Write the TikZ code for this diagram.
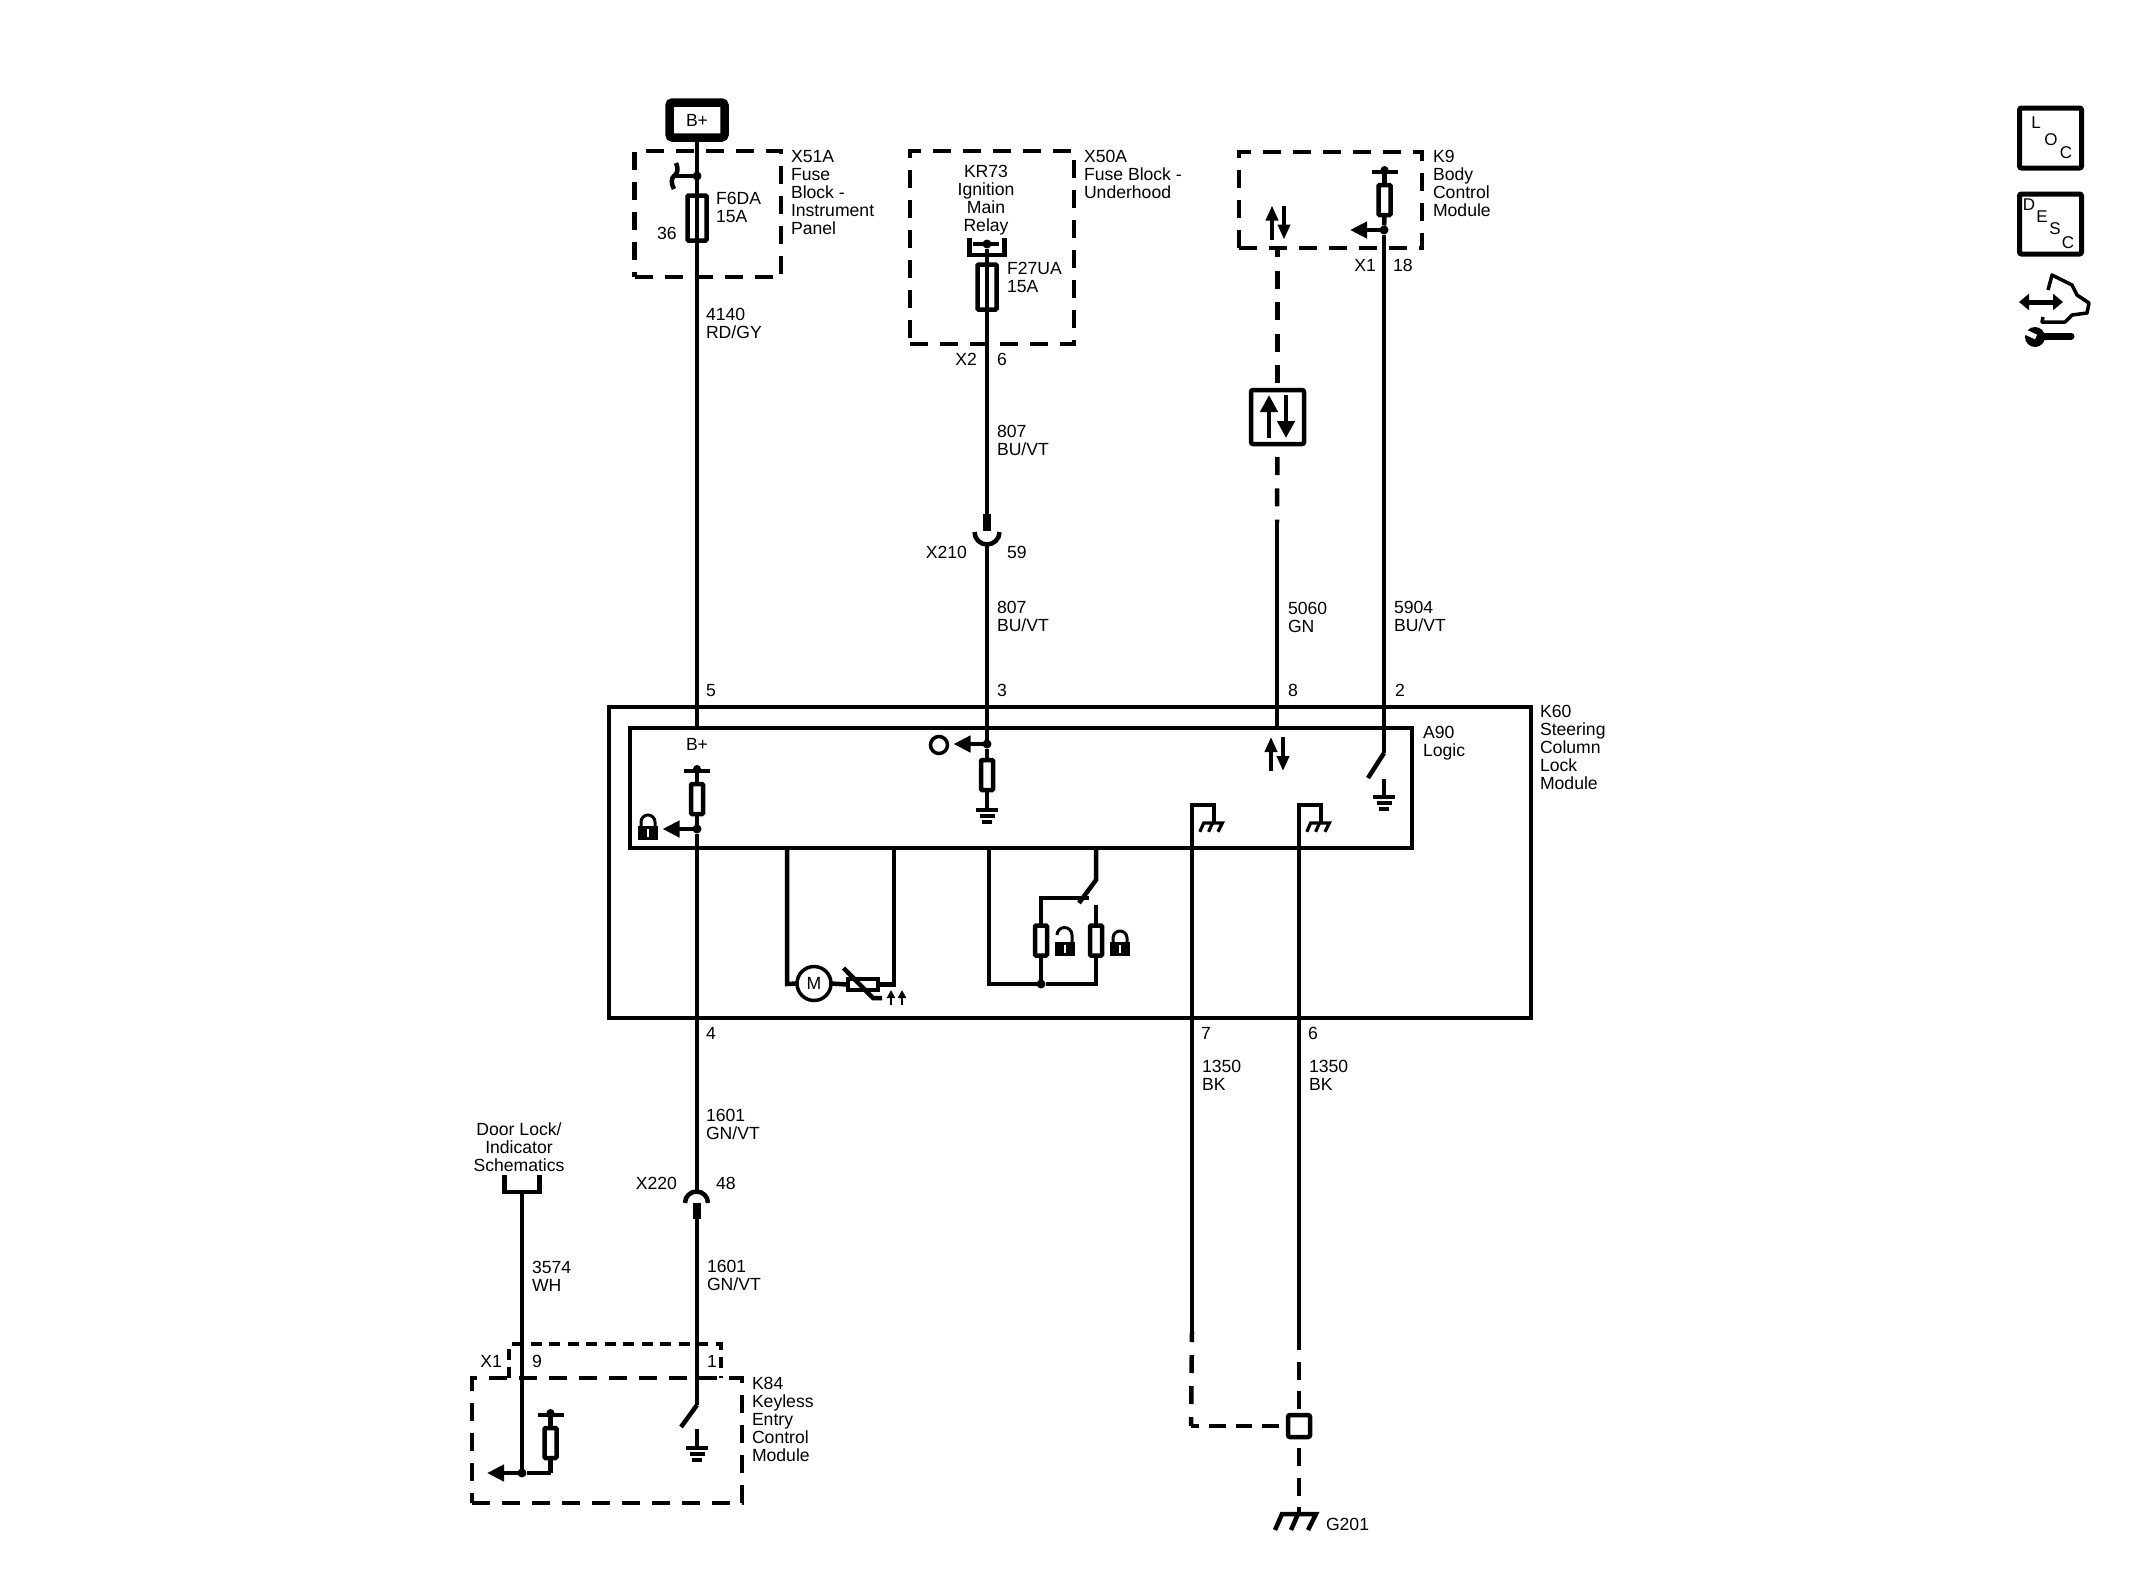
\documentclass[tikz,border=0pt]{standalone}
\usepackage{fontspec}
\setmainfont{Liberation Sans}
\usetikzlibrary{arrows.meta}

\tikzset{
    sgnd/.pic={
        \draw (-11,0) -- (11,0);
        \draw (-7.5,6) -- (7.5,6);
        \draw (-5,12) -- (5,12);
    },
    chassis/.pic={
        \draw (-24,16) -- (-17,0) -- (17,0) -- (9,16);
        \draw (-1,0) -- (-8,16);
    },
    pullbar/.pic={
        \draw (-13,0) -- (13,0);
        \fill (0,-2) circle (4pt);
    },
    updown/.pic={
        \draw[-{Triangle[length=15pt,width=12pt]}] (-6,17) -- (-6,-17);
        \draw[-{Triangle[length=15pt,width=12pt]}] (6,-17) -- (6,17);
    },
    tray/.pic={
        \draw (-17.5,-17) -- (-17.5,0) -- (17.5,0) -- (17.5,-17);
    },
    lockshut/.pic={
        \fill (-10,-14) rectangle (10,0);
        \draw[line width=3pt] (-7,-14) -- (-7,-18) arc[start angle=180,end angle=360,radius=7] -- (7,-14);
        \draw[white,line width=2pt] (0,-11) -- (0,-3);
    },
    lockopen/.pic={
        \fill (-10,-14) rectangle (10,0);
        \draw[line width=3pt] (-8,-21) arc[start angle=180,end angle=360,radius=7.5] -- (7,-14);
        \draw[white,line width=2pt] (0,-11) -- (0,-3);
    }
}

\begin{document}
\begin{tikzpicture}[
                        x=1pt,
                        y=-1pt,
                        line width=4.5pt,
                        >={Triangle[length=17pt,width=16pt]}
                    ]
                    \tikzstyle{lbl}=[inner sep=0pt,outer sep=0pt,anchor=north west,yshift=5.6pt,align=left,font=\fontsize{17.6}{18}\selectfont]
                    \tikzstyle{lblr}=[lbl,anchor=north east,align=right]
                    \tikzstyle{lblc}=[lbl,anchor=north,align=center]
                    \tikzstyle{letter}=[inner sep=0pt,font=\fontsize{17}{18}\selectfont]
                    \tikzstyle{modbox}=[draw,inner sep=0pt,outer sep=0pt,dash pattern=on 18pt off 12pt]
                    \tikzstyle{solidbox}=[draw,inner sep=0pt,outer sep=0pt]
                    \tikzstyle{keybox}=[solidbox,line width=5pt,rounded corners=2pt,minimum width=62pt,minimum height=60pt]
                    \tikzstyle{fuse}=[solidbox,rounded corners=1pt,minimum width=19pt,minimum height=45pt]
                    \tikzstyle{res}=[solidbox,rounded corners=1pt,minimum width=12pt,minimum height=30pt]
                    \tikzstyle{dot}=[circle,fill=black,inner sep=0pt,outer sep=0pt,minimum size=9pt]
                    \tikzstyle{sigtip}=[-{Triangle[length=17pt,width=17pt]}]
                    \tikzstyle{thinsw}=[line width=3.5pt,dash pattern=on 11pt off 7.5pt]

                    \useasboundingbox (0,0) rectangle (2130,1595);

                    \node[solidbox,line width=8.5pt,rounded corners=3pt,minimum width=55pt,minimum height=35pt,font=\fontsize{17.6}{18}\selectfont] (batt) at (697,120) {B+};
                    \node[modbox,minimum width=146.5pt,minimum height=126pt] (x51a) at (707.75,214) {};
                    \node[modbox,minimum width=164pt,minimum height=193pt] (x50a) at (992,247.5) {};
                    \node[modbox,minimum width=183pt,minimum height=96pt] (k9) at (1330.5,200) {};
                    \node[modbox,minimum width=270pt,minimum height=125pt] (k84) at (607,1440.5) {};
                    \node[solidbox,minimum width=922pt,minimum height=311pt] (k60) at (1070,862.5) {};
                    \node[solidbox,minimum width=782pt,minimum height=120pt] (a90) at (1021,788) {};
                    \node[solidbox,rounded corners=2pt,minimum width=53pt,minimum height=54pt] (sigbox) at (1277.5,417) {};
                    \node[solidbox,rounded corners=2pt,minimum width=22pt,minimum height=22pt] (split) at (1299,1426) {};

                    \node[fuse] (f6da) at (697,218) {};
                    \node[fuse] (f27ua) at (987,287) {};
                    \node[res] (rbody) at (1384.5,200) {};
                    \node[res] (rbplus) at (697,799) {};
                    \node[res] (rign) at (987,775) {};
                    \node[res] (rkey) at (550.5,1443) {};
                    \node[res] (runlock) at (1041,940.5) {};
                    \node[res] (rlock) at (1096,940.5) {};
                    \node[solidbox,circle,line width=3.5pt,minimum size=34pt,font=\fontsize{17.6}{18}\selectfont] (motor) at (814,983.5) {M};
                    \node[solidbox,minimum width=30pt,minimum height=11pt] (therm) at (863,984.5) {};
                    \node[solidbox,circle,line width=3.5pt,minimum size=17pt] (lamp) at (939,745) {};

                    \node[dot] (ipjoint) at (697,176) {};
                    \node[dot] (relayjoint) at (987,244) {};
                    \node[dot] (bodyjoint) at (1384,230) {};
                    \node[dot] (bpjoint) at (697,829) {};
                    \node[dot] (ignjoint) at (987,744) {};
                    \node[dot] (unlockjoint) at (1041,984) {};
                    \node[dot] (keyjoint) at (522,1473) {};

                    \coordinate (ipstub) at (675,176);
                    \coordinate (pin5) at (697,728);
                    \coordinate (pin3) at (987,514);
                    \coordinate (x210low) at (987,543);
                    \coordinate (x220top) at (697,1191);
                    \coordinate (x220low) at (697,1219);
                    \coordinate (pin8) at (1277,728);
                    \coordinate (solid8) at (1277,522);
                    \coordinate (sw2) at (1384,753);
                    \coordinate (sw2end) at (1368,778);
                    \coordinate (sw1) at (697,1405);
                    \coordinate (sw1end) at (681,1427);
                    \coordinate (doorlow) at (522,1192);
                    \coordinate (bpbar) at (697,771);
                    \coordinate (bodybar) at (1384.5,172);
                    \coordinate (keybar) at (550.5,1415);
                    \coordinate (keycorner) at (550.5,1473);
                    \coordinate (bptip) at (662.5,829);
                    \coordinate (igntip) at (953.5,744);
                    \coordinate (bodytip) at (1350,230);
                    \coordinate (keytip) at (487,1473);
                    \coordinate (ignlow) at (987,810);
                    \coordinate (gnd1) at (1192,1332);
                    \coordinate (gnd2) at (1299,1342);
                    \coordinate (gnd1low) at (1191,1426);
                    \coordinate (g201) at (1299,1514);

                    \path
                    (batt.south) edge (pin5)
                    (relayjoint) edge (pin3)
                    (x210low) edge (ignjoint)
                    (ignjoint) edge (rign.north)
                    (rign.south) edge (ignlow)
                    (bodybar) edge (rbody.north)
                    (rbody.south) edge (bodyjoint)
                    (bodyjoint) edge (sw2)
                    (sw2) edge (sw2end)
                    (solid8) edge (pin8)
                    (bpbar) edge (rbplus.north)
                    (rbplus.south) edge (bpjoint)
                    (bpjoint) edge (x220top)
                    (x220low) edge (sw1)
                    (sw1) edge (sw1end)
                    (doorlow) edge (keyjoint)
                    (keybar) edge (rkey.north)
                    (rkey.south) edge (keycorner)
                    (ipjoint) edge (ipstub)
                    (bpjoint) edge[->] (bptip)
                    (ignjoint) edge[->] (igntip)
                    (bodyjoint) edge[->] (bodytip)
                    (keyjoint) edge[->] (keytip)
                    (motor.east) edge (therm.west) ;

                    \draw (keycorner) -- (keyjoint);
                    \draw (787,848) -- (787,984) -- (motor.west);
                    \draw (therm.east) -- (894,984.5) -- (894,848);
                    \draw (989,848) -- (989,984) -- (unlockjoint) -- (1096,984) -- (rlock.south);
                    \draw (rlock.north) -- (1096,905);
                    \draw (unlockjoint) -- (runlock.south);
                    \draw (runlock.north) -- (1041,898) -- (1089,898);
                    \draw (1096,848) -- (1096,880) -- (1079,903);
                    \draw (gnd1) -- (1192,805) -- (1214,805) -- (1214,823);
                    \draw (gnd2) -- (1299,805) -- (1321,805) -- (1321,823);
                    \draw (843.5,968) -- (873,998) -- (882,998);
                    \draw[line width=2.6pt,-{Triangle[length=8pt,width=8pt]}] (891,1005) -- (891,990);
                    \draw[line width=2.6pt,-{Triangle[length=8pt,width=8pt]}] (902,1005) -- (902,990);

                    \draw (676,163) .. controls (679,170) and (677,174) .. (674,176) .. controls (671,178) and (671,184) .. (674,189);
                    \draw (973,244) -- (999,244);
                    \draw[line width=8pt] (987,514) -- (987,531);
                    \draw (974.5,532) arc[start angle=180,end angle=0,radius=12.5];
                    \draw[line width=8pt] (697,1203) -- (697,1219);
                    \draw (685,1203) arc[start angle=180,end angle=360,radius=11.5];

                    \draw[dash pattern=on 18pt off 13.5pt,dash phase=9pt] (k9.south -| sigbox) -- (sigbox.north);
                    \draw[dash pattern=on 18pt off 13.3pt,dash phase=18.3pt] (sigbox.south) -- (solid8);
                    \draw[dash pattern=on 18pt off 13pt,dash phase=8pt] (gnd1) -- (gnd1low);
                    \draw[dash pattern=on 16.5pt off 10pt,dash phase=8.5pt] (gnd1low) -- (split.west);
                    \draw[dash pattern=on 18pt off 11.5pt,dash phase=10pt] (gnd2) -- (split.north);
                    \draw[dash pattern=on 18pt off 11.5pt,dash phase=18.5pt] (split.south) -- (g201);
                    \draw[thinsw] (509,1378) -- (509,1344) -- (721,1344) -- (721,1378);

                    \pic at (987,255) {tray};
                    \pic at (522,1192) {tray};
                    \pic at (bpbar) {pullbar};
                    \pic at (bodybar) {pullbar};
                    \pic at (keybar) {pullbar};
                    \pic at (987,810) {sgnd};
                    \pic at (1384,797) {sgnd};
                    \pic at (697,1448) {sgnd};
                    \draw (1384,779) -- (1384,797);
                    \draw (697,1429) -- (697,1448);
                    \pic at (1277,754) {updown};
                    \pic at (1278,222.5) {updown};
                    \draw[sigtip] (1269,438) -- (1269,395);
                    \draw[sigtip] (1286,395) -- (1286,438);
                    \pic[line width=3.2pt,scale=0.55] at (1213,823) {chassis};
                    \pic[line width=3.2pt,scale=0.55] at (1320,823) {chassis};
                    \pic at (g201) {chassis};
                    \pic at (648,840) {lockshut};
                    \pic at (1120,956) {lockshut};
                    \pic at (1065,956) {lockopen};

                    \node[lbl] (lx51a) at (791,156) {X51A\\Fuse\\Block -\\Instrument\\Panel};
                    \node[lbl] (lf36) at (657,233) {36};
                    \node[lbl] (lf6da) at (716,198) {F6DA\\15A};
                    \node[lbl] (w4140) at (706,314) {4140\\RD/GY};
                    \node[lbl] (lx50a) at (1084,156) {X50A\\Fuse Block -\\Underhood};
                    \node[lblc] (lkr73) at (986,171) {KR73\\Ignition\\Main\\Relay};
                    \node[lbl] (lf27ua) at (1007,268) {F27UA\\15A};
                    \node[lblr] (lx2) at (977,359) {X2};
                    \node[lbl] (lx2pin) at (997,359) {6};
                    \node[lbl] (w807a) at (997,431) {807\\BU/VT};
                    \node[lblr] (lx210) at (967,552) {X210};
                    \node[lbl] (lx210pin) at (1007,552) {59};
                    \node[lbl] (w807b) at (997,607) {807\\BU/VT};
                    \node[lbl] (lk9) at (1433,156) {K9\\Body\\Control\\Module};
                    \node[lblr] (lk9x1) at (1376,265) {X1};
                    \node[lbl] (lk9pin) at (1393,265) {18};
                    \node[lbl] (w5060) at (1288,608) {5060\\GN};
                    \node[lbl] (w5904) at (1394,607) {5904\\BU/VT};
                    \node[lbl] (lpin5) at (706,690) {5};
                    \node[lbl] (lpin3) at (997,690) {3};
                    \node[lbl] (lpin8) at (1288,690) {8};
                    \node[lbl] (lpin2) at (1395,690) {2};
                    \node[lbl] (lk60) at (1540,711) {K60\\Steering\\Column\\Lock\\Module};
                    \node[lbl] (la90) at (1423,732) {A90\\Logic};
                    \node[lblc] (lbp) at (697,744) {B+};
                    \node[lbl] (lpin4) at (706,1033) {4};
                    \node[lbl] (lpin7) at (1201,1033) {7};
                    \node[lbl] (lpin6) at (1308,1033) {6};
                    \node[lbl] (w1350a) at (1202,1066) {1350\\BK};
                    \node[lbl] (w1350b) at (1309,1066) {1350\\BK};
                    \node[lbl] (w1601a) at (706,1115) {1601\\GN/VT};
                    \node[lblr] (lx220) at (677,1183) {X220};
                    \node[lbl] (lx220pin) at (716,1183) {48};
                    \node[lblc] (ldoor) at (519,1128) {Door Lock/\\Indicator\\Schematics};
                    \node[lbl] (w3574) at (532,1267) {3574\\WH};
                    \node[lbl] (w1601b) at (707,1266) {1601\\GN/VT};
                    \node[lblr] (lk84x1) at (502,1361) {X1};
                    \node[lbl] (lk84pin9) at (532,1361) {9};
                    \node[lbl] (lk84pin1) at (707,1361) {1};
                    \node[lbl] (lk84) at (752,1383) {K84\\Keyless\\Entry\\Control\\Module};
                    \node[lbl] (lg201) at (1326,1524) {G201};

                    \node[keybox] (locbox) at (2050.5,138) {};
                    \node[keybox] (descbox) at (2050.5,224) {};
                    \foreach \ltr/\px/\py in {L/2036/123,O/2051/140,C/2066/153}
                        \node[letter] (loc\ltr) at (\px,\py) {\ltr};
                    \foreach \ltr/\px/\py in {D/2029/205,E/2042/217,S/2055/229,C/2068/243}
                        \node[letter] (desc\ltr) at (\px,\py) {\ltr};

                    \draw[line width=3.5pt,line join=round] (2048,290) -- (2052,275) -- (2072,285) -- (2077,295) -- (2089,303) -- (2087,313) -- (2072,315) -- (2065,322) -- (2042,322) -- (2043,317);
                    \draw[line width=5pt,{Triangle[length=10pt,width=16pt]}-{Triangle[length=10pt,width=16pt]}] (2019,302) -- (2063,302);
                    \fill (2035,337) circle (10pt);
                    \draw[line width=7pt,line cap=round] (2038,336) -- (2071,336);
                    \draw[white,line width=5pt] (2023,331) -- (2036,337);

                \end{tikzpicture}
\end{document}
